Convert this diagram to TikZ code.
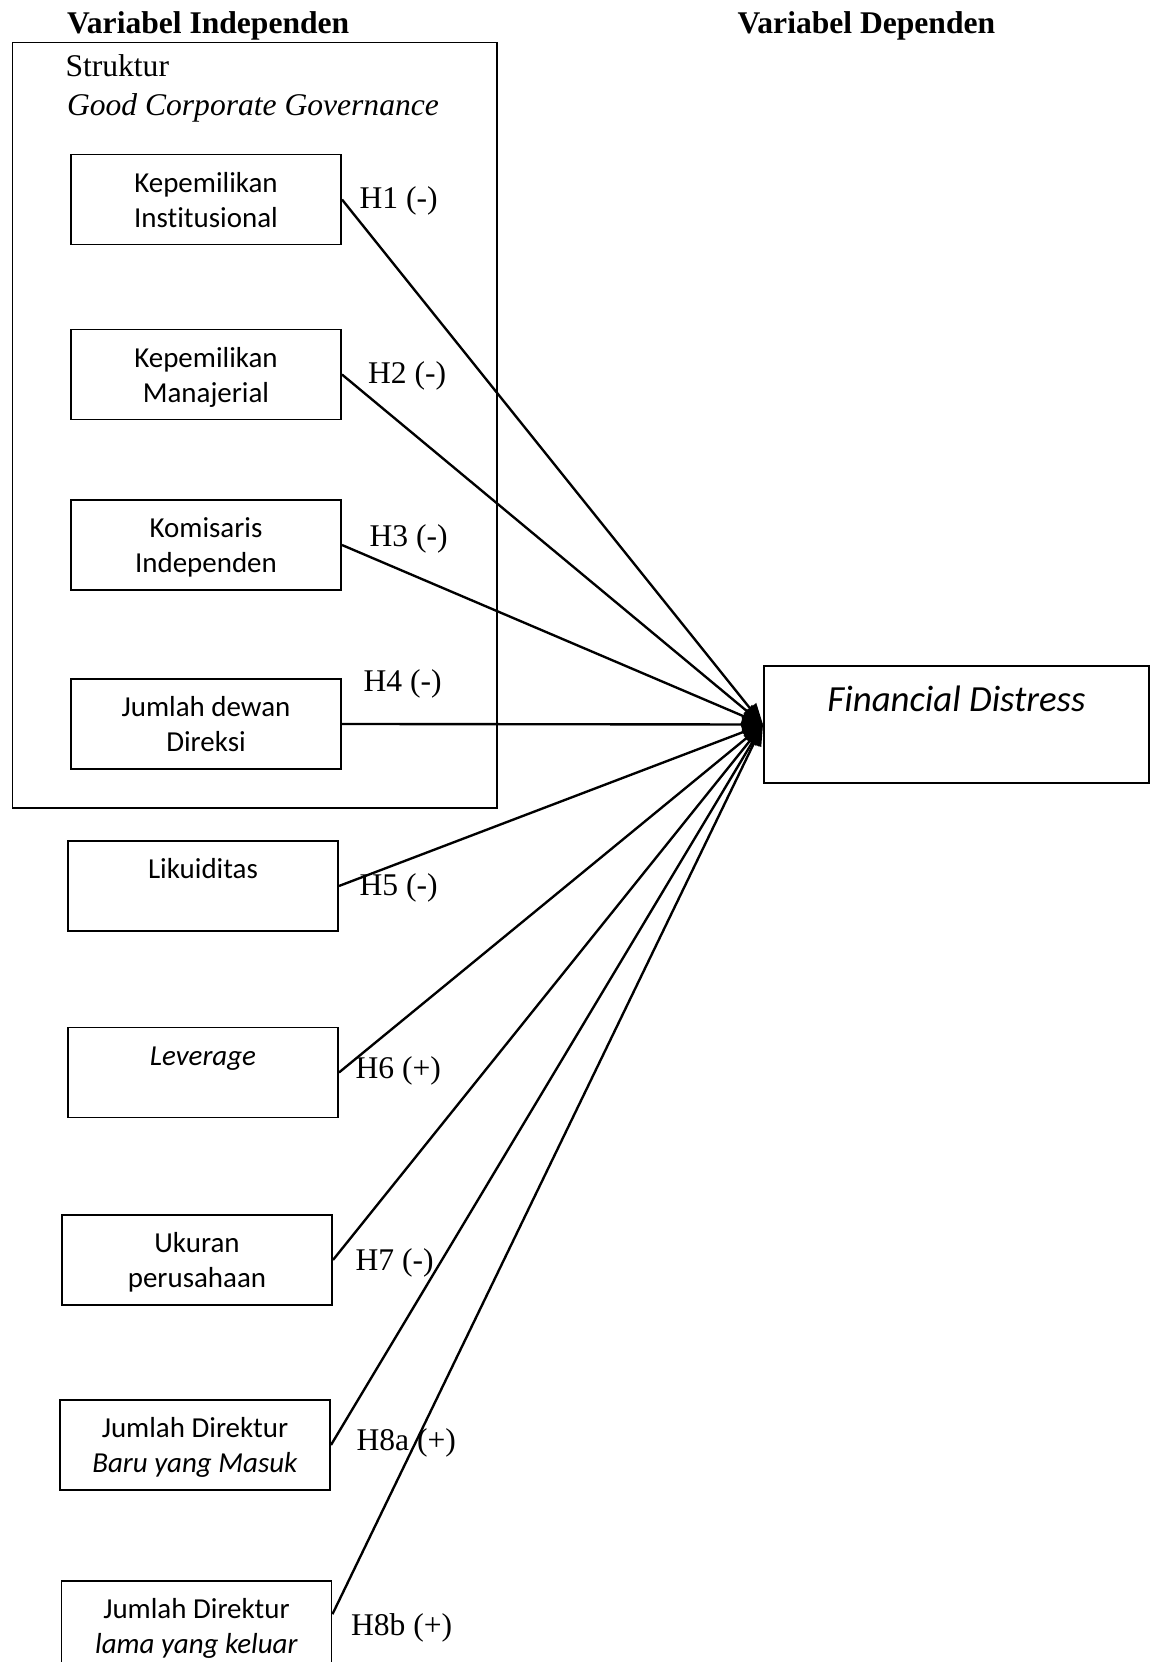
\documentclass[tikz,border=0pt]{standalone}
\usepackage{fontspec}
\setmainfont{Liberation Serif}
\newfontfamily\calibri[Ligatures=NoCommon]{Carlito}
\usetikzlibrary{arrows.meta}

\def\px{0.38pt}

\tikzset{
    varbox/.style={draw, line width=0.75pt, inner sep=0pt, anchor=north west,
        minimum width=270*\px, minimum height=90*\px},
    vartext/.style={font=\calibri\fontsize{11}{13.3}\selectfont, text width=100pt,
        align=flush center, inner sep=0pt, anchor=base},
    hyp/.style={font=\fontsize{12}{14}\selectfont, anchor=base west, inner sep=0pt},
    head/.style={font=\bfseries\fontsize{12}{14}\selectfont, anchor=base west, inner sep=0pt},
    link/.style={-{Triangle[length=8pt, width=6pt]}, line width=0.9pt},
}

\begin{document}
\begin{tikzpicture}[x=\px, y=-\px]

\useasboundingbox (0,0) rectangle (1154,1662);

% ---------------------------------------------------------------- headings
\node[head] (indep) at (66.5,33) {Variabel Independen};
\node[head] (dep) at (737,33) {Variabel Dependen};

% ---------------------------------------------------------------- GCG group
\draw[line width=0.75pt] (12.5,42.5) rectangle (497,808);
\node[hyp] (struk) at (65,76) {Struktur};
\node[hyp] (gcg) at (66.5,115) {\textit{Good Corporate Governance}};

% ---------------------------------------------------------------- independent variables
\foreach \n/\x/\y/\lbl in {
    inst/70/153.5/{Kepemilikan\\Institusional},
    mana/70/328.5/{Kepemilikan\\Manajerial},
    komi/70/499/{Komisaris\\Independen},
    dewan/70/678/{Jumlah dewan\\Direksi},
    likui/67/840/{Likuiditas},
    lev/67/1026.5/{\textit{Leverage}},
    ukur/61/1214/{Ukuran\\perusahaan},
    baru/59/1399/{Jumlah Direktur\\\textit{Baru yang Masuk}},
    lama/60.5/1580/{Jumlah Direktur\\\textit{lama yang keluar}}} {
    \node[varbox] (\n) at (\x,\y) {};
    \node[vartext] (\n-txt) at ([yshift=-14.8pt]\n.north) {\lbl};
}

% ---------------------------------------------------------------- dependent variable
\node[varbox, minimum width=385*\px, minimum height=117*\px] (fd) at (763,665) {};
\node[vartext, font=\calibri\itshape\fontsize{14}{16}\selectfont, text width=140pt]
    (fd-txt) at ([yshift=-17.5pt]fd.north) {Financial Distress};

% ---------------------------------------------------------------- hypotheses
\foreach \n/\x/\y/\lbl in {
    h1/359/208.5/H1 (-), h2/367.5/383/H2 (-), h3/369/546/H3 (-),
    h4/363/691/H4 (-), h5/359/895/H5 (-), h6/355/1078/H6 (+),
    h7/355/1270.5/H7 (-), h8a/356/1450.5/H8a (+), h8b/350.5/1635.5/H8b (+)} {
    \node[hyp] (\n) at (\x,\y) {\lbl};
}

\foreach \n in {inst, mana, komi, dewan, likui, lev, ukur, baru}
    \draw[link] (\n.east) -- (fd.west);
\draw[link] ([yshift=4.5pt]lama.east) -- (fd.west);

\end{tikzpicture}
\end{document}
